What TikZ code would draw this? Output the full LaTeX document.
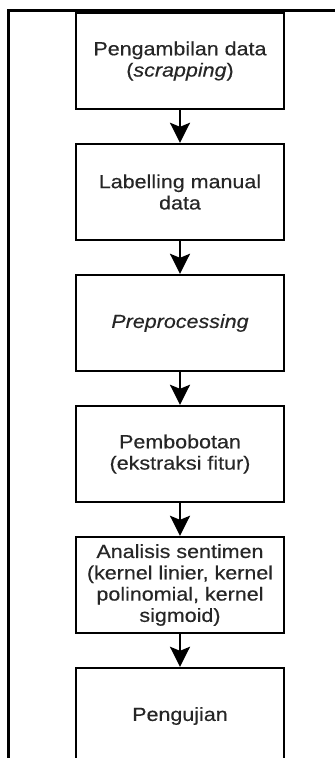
\documentclass[tikz,border=0pt]{standalone}
\usepackage{fontspec}
\setmainfont[FakeStretch=1.13, FakeBold=0.4]{Liberation Sans}
\usetikzlibrary{positioning,arrows.meta}

\begin{document}
\begin{tikzpicture}[x=1pt, y=-1pt, node distance=131pt,
  proses/.style={rectangle, draw, line width=2.4pt, minimum width=208pt, minimum height=96pt, align=center, inner sep=2pt, text=black!85, font=\fontsize{19pt}{21.3pt}\selectfont},
  panah/.style={-{Stealth[length=20pt, width=20pt, inset=4pt]}, line width=2.6pt}]
  \useasboundingbox (0,0) rectangle (335,758);
  \clip (0,0) rectangle (335,758);

  % Bingkai
  \draw[line width=3pt] (8.7,758) -- (8.7,10) -- (335,10);

  % Kotak proses
  \node[proses] (ambil) at (180,61) {Pengambilan data\\(\textit{scrapping})};
  \node[proses] (label) [below of=ambil] {Labelling manual\\data};
  \node[proses] (pre) [below of=label] {\textit{Preprocessing}};
  \node[proses] (bobot) [below of=pre] {Pembobotan\\(ekstraksi fitur)};
  \node[proses] (analisis) [below of=bobot] {Analisis sentimen\\(kernel linier, kernel\\polinomial, kernel\\sigmoid)};
  \node[proses] (uji) [below of=analisis] {Pengujian};

  % Panah
  \draw[panah] (ambil) -- (label);
  \draw[panah] (label) -- (pre);
  \draw[panah] (pre) -- (bobot);
  \draw[panah] (bobot) -- (analisis);
  \draw[panah] (analisis) -- (uji);
\end{tikzpicture}
\end{document}
